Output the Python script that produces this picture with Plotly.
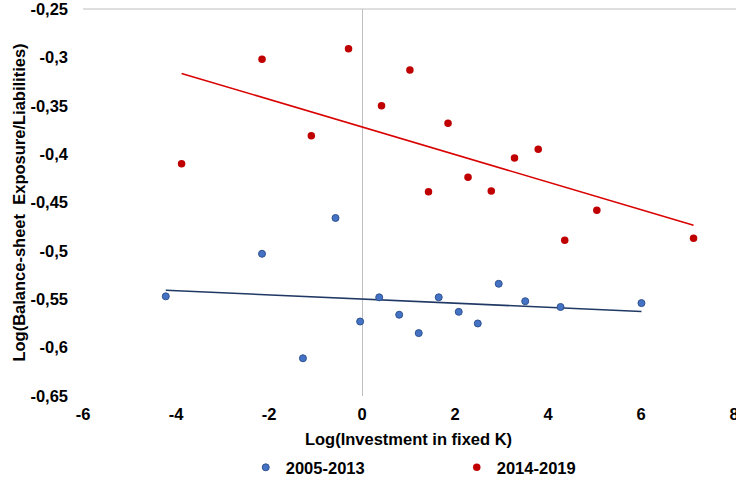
import numpy as np
import plotly.graph_objects as go

# 2005-2013 series
x_early = [-4.22, -2.15, -1.27, -0.57, -0.04, 0.37, 0.80, 1.22, 1.65, 2.08, 2.49, 2.94, 3.51, 4.27, 6.01]
y_early = [-0.547, -0.503, -0.611, -0.466, -0.573, -0.548, -0.566, -0.585, -0.548, -0.563, -0.575, -0.534, -0.552, -0.558, -0.554]

# 2014-2019 series
x_late = [-3.88, -2.15, -1.09, -0.29, 0.42, 1.03, 1.43, 1.85, 2.28, 2.78, 3.28, 3.79, 4.36, 5.05, 7.13]
y_late = [-0.410, -0.302, -0.381, -0.291, -0.350, -0.313, -0.439, -0.368, -0.424, -0.438, -0.404, -0.395, -0.489, -0.458, -0.487]

x_ticks = [-6, -4, -2, 0, 2, 4, 6, 8]
x_ticktext = ["-6", "-4", "-2", "0", "2", "4", "6", "8"]
y_ticks = [-0.25, -0.30, -0.35, -0.40, -0.45, -0.50, -0.55, -0.60, -0.65]
y_ticktext = ["-0,25", "-0,3", "-0,35", "-0,4", "-0,45", "-0,5", "-0,55", "-0,6", "-0,65"]

names = ["2005-2013", "2014-2019"]
BLUE = "#4472C4"
BLUE_EDGE = "#2F528F"
BLUE_LINE = "#203864"
RED = "#C00000"
RED_LINE = "#D90000"
FONT = "Liberation Sans, Arial, sans-serif"
FS = 16.5


def trend(xs, ys):
    k, b = np.polyfit(xs, ys, 1)
    xx = np.array([min(xs), max(xs)])
    return xx, k * xx + b


fig = go.Figure()
tx, ty = trend(x_early, y_early)
fig.add_trace(go.Scatter(x=tx, y=ty, mode="lines", line=dict(color=BLUE_LINE, width=1.6),
                         showlegend=False, hoverinfo="skip"))
tx, ty = trend(x_late, y_late)
fig.add_trace(go.Scatter(x=tx, y=ty, mode="lines", line=dict(color=RED_LINE, width=1.6),
                         showlegend=False, hoverinfo="skip"))
fig.add_trace(go.Scatter(x=x_early, y=y_early, mode="markers", name=names[0],
                         marker=dict(color=BLUE, size=7, line=dict(color=BLUE_EDGE, width=1))))
fig.add_trace(go.Scatter(x=x_late, y=y_late, mode="markers", name=names[1],
                         marker=dict(color=RED, size=7.5, line=dict(color=RED, width=0))))

fig.update_layout(
    width=736, height=483,
    margin=dict(l=83, r=2, t=9, b=87, autoexpand=False),
    paper_bgcolor="white", plot_bgcolor="white",
    font=dict(family=FONT, size=FS, color="#000000"),
    showlegend=True,
    legend=dict(orientation="h", x=0.250, xanchor="left", y=-0.185, yanchor="middle",
                font=dict(family=FONT, size=FS, color="#000000", weight="bold"),
                itemwidth=30, entrywidth=166, entrywidthmode="pixels"),
    shapes=[dict(type="line", xref="paper", yref="paper", x0=0, x1=1.01, y0=1, y1=1,
                 line=dict(color="#BFBFBF", width=1))],
)
fig.update_xaxes(
    range=[-6, 8], tickvals=x_ticks, ticktext=x_ticktext, automargin=False,
    showgrid=False, zeroline=True, zerolinecolor="#BFBFBF", zerolinewidth=1,
    showline=False, ticks="", ticklabelstandoff=6, ticklabeloverflow="allow",
    tickfont=dict(family=FONT, size=FS, color="#000000", weight="bold"),
    title=dict(text="Log(Investment in fixed K)", standoff=11,
               font=dict(family=FONT, size=FS, color="#000000", weight="bold")),
)
fig.update_yaxes(
    range=[-0.65, -0.25], tickvals=y_ticks, ticktext=y_ticktext, automargin=False,
    showgrid=False, zeroline=False, showline=False, ticks="", ticklabelstandoff=14,
    ticklabeloverflow="allow",
    tickfont=dict(family=FONT, size=FS, color="#000000", weight="bold"),
    title=dict(text="Log(Balance-sheet  Exposure/Liabilities)", standoff=0,
               font=dict(family=FONT, size=FS, color="#000000", weight="bold")),
)

fig.write_html("out.html", config={"displayModeBar": False},
               post_script="document.body.style.margin='0';")
